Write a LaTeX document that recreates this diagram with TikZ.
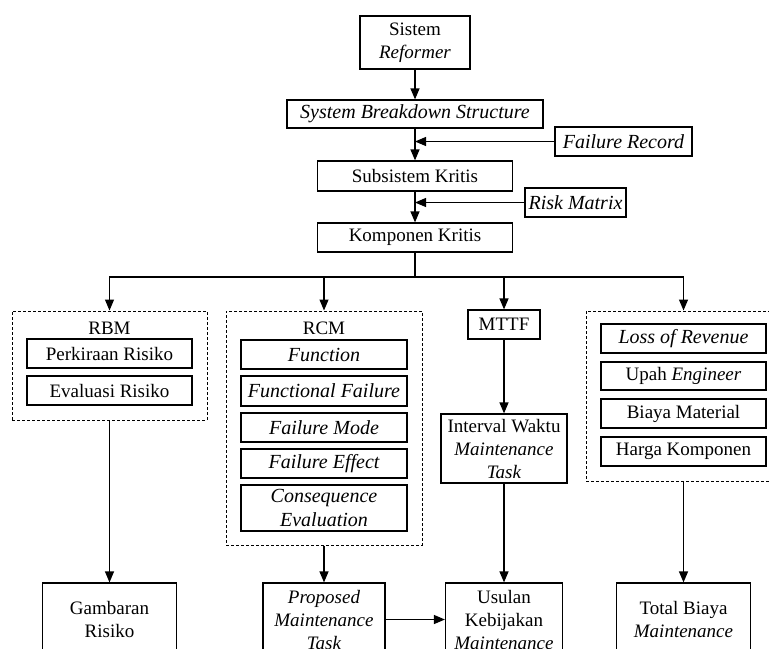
\documentclass[tikz,border=0pt]{standalone}
\usepackage{fontspec}
\setmainfont{Liberation Serif}
\usetikzlibrary{arrows.meta}
\begin{document}
\begin{tikzpicture}[x=.5pt,y=-.5pt, font=\fontsize{9.5}{11.5}\selectfont,
 bx/.style 2 args={draw,line width=.6pt,inner sep=0pt,align=center,minimum width=#1,minimum height=#2},
 dbx/.style 2 args={draw,dash pattern=on 1.5pt off 1pt,line width=.5pt,minimum width=#1,minimum height=#2},
 ar/.style={line width=.6pt,-{Triangle[length=5.5pt,width=4.5pt]}}]
\useasboundingbox (0,0) rectangle (769,648);
\clip (0,0) rectangle (769,648);
% alur atas
\node[bx={55pt}{26.5pt}] (sys) at (415,42.5) {Sistem\\\textit{Reformer}};
\node[bx={128pt}{14pt},font=\itshape] (sbs) at (415,114) {System Breakdown Structure};
\node[bx={68.5pt}{14.5pt},font=\itshape] (frec) at (623.5,141.5) {Failure Record};
\node[bx={97.5pt}{15pt}] (sub) at (415,176) {Subsistem Kritis};
\node[bx={50.5pt}{14.5pt},font=\itshape] (risk) at (575.5,202.5) {Risk Matrix};
\node[bx={97.5pt}{14.5pt}] (komp) at (415,237.5) {Komponen Kritis};
\draw[ar] (sys) -- (sbs); \draw[ar] (sbs) -- (sub); \draw[ar] (sub) -- (komp);
\draw[ar] (frec.west) -- (frec.west -| sbs.south);
\draw[ar] (risk.west) -- (risk.west -| sub.south);
% kelompok metode
\node[dbx={97.5pt}{54.5pt}] (rbm) at (109.5,365.5) {};
\node (rbmt) at (109.5,328) {RBM};
\node[bx={82.5pt}{14.5pt}] (pk) at (109.5,353.5) {Perkiraan Risiko};
\node[bx={82.5pt}{14.5pt}] (ev) at (109.5,390.5) {Evaluasi Risiko};
\node[dbx={98pt}{117pt}] (rcm) at (324,428) {};
\node (rcmt) at (324,328) {RCM};
\node[bx={83pt}{14.5pt},font=\itshape] (fn) at (324,354.5) {Function};
\node[bx={83pt}{15pt},font=\itshape] (ff) at (324,391) {Functional Failure};
\node[bx={83pt}{14.5pt},font=\itshape] (fm) at (324,427.5) {Failure Mode};
\node[bx={83pt}{14.5pt},font=\itshape] (fe) at (324,463.5) {Failure Effect};
\node[bx={83pt}{23pt},font=\itshape] (ce) at (324,508) {Consequence\\Evaluation};
\node[bx={36pt}{14.5pt}] (mttf) at (504,324.5) {MTTF};
\node[bx={63pt}{34.5pt}] (intv) at (504,448.5) {Interval Waktu\\\textit{Maintenance}\\\textit{Task}};
\node[dbx={97.5pt}{85pt}] (cost) at (683.5,396) {};
\node[bx={82.5pt}{14.5pt},font=\itshape] (lor) at (683.5,338.5) {Loss of Revenue};
\node[bx={82.5pt}{14pt}] (upah) at (683.5,376) {Upah \textit{Engineer}};
\node[bx={82.5pt}{14.5pt}] (bm) at (683.5,413.5) {Biaya Material};
\node[bx={82.5pt}{14.5pt}] (hk) at (683.5,451.5) {Harga Komponen};
\coordinate (bus) at (415,277);
\draw[line width=.6pt] (komp) -- (bus);
\foreach \t in {rbm,rcm,mttf,cost} \draw[ar] (bus) -| (\t.north);
% hasil
\node[bx={67pt}{36.5pt}] (gamb) at (109.5,619.5) {Gambaran\\Risiko};
\node[bx={61pt}{36.5pt}] (prop) at (324,619.5) {\textit{Proposed}\\\textit{Maintenance}\\\textit{Task}};
\node[bx={58.5pt}{36.5pt}] (usul) at (504,619.5) {Usulan\\Kebijakan\\\textit{Maintenance}};
\node[bx={67pt}{36.5pt}] (total) at (683.5,619.5) {Total Biaya\\\textit{Maintenance}};
\foreach \a/\b in {rbm/gamb, rcm/prop, mttf/intv, intv/usul, cost/total} \draw[ar] (\a) -- (\b);
\draw[ar] (prop) -- (usul);
\end{tikzpicture}
\end{document}
